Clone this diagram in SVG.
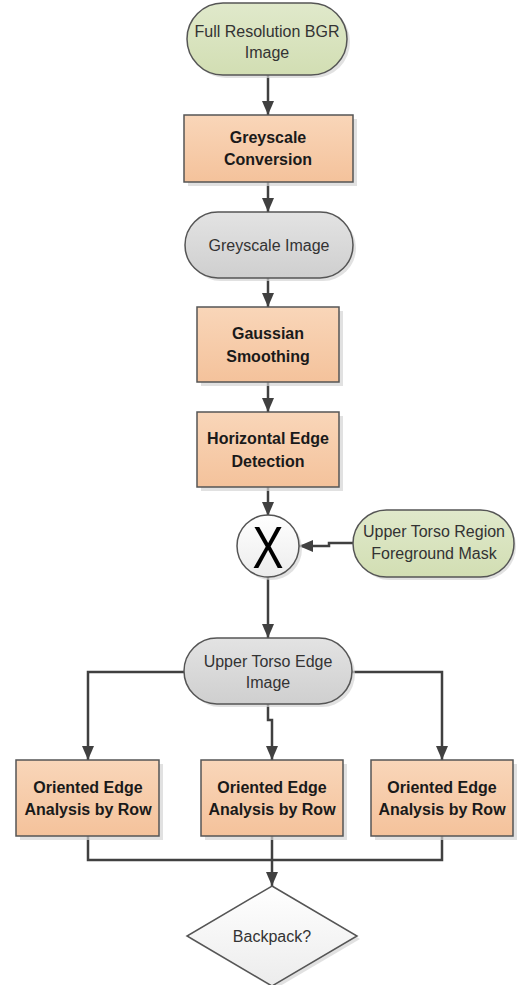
<svg xmlns="http://www.w3.org/2000/svg" width="517" height="985" viewBox="0 0 517 985">
<defs>
<linearGradient id="gOr" x1="0" y1="0" x2="0" y2="1"><stop offset="0" stop-color="#f9d6b9"/><stop offset="1" stop-color="#f4c29b"/></linearGradient>
<linearGradient id="gGr" x1="0" y1="0" x2="0" y2="1"><stop offset="0" stop-color="#e0e9cb"/><stop offset="1" stop-color="#d2deb3"/></linearGradient>
<linearGradient id="gGy" x1="0" y1="0" x2="0" y2="1"><stop offset="0" stop-color="#e3e3e3"/><stop offset="1" stop-color="#cfcfcf"/></linearGradient>
<linearGradient id="gWh" x1="0" y1="0" x2="0" y2="1"><stop offset="0" stop-color="#ffffff"/><stop offset="1" stop-color="#ececec"/></linearGradient>
<marker id="arr" viewBox="0 0 14 12" refX="14" refY="6" markerWidth="14" markerHeight="12" markerUnits="userSpaceOnUse" orient="auto"><path d="M0,0 L14,6 L0,12 z" fill="#404040"/></marker>
</defs>
<style>
.sh{fill:#d4d4d4;opacity:0.7}
.box{stroke:#555;stroke-width:1.5}
.or{fill:url(#gOr)}
.gr{fill:url(#gGr)}
.gy{fill:url(#gGy)}
.wh{fill:url(#gWh)}
.b{font-family:"Liberation Sans",Arial,sans-serif;font-weight:bold;font-size:16px;fill:#1a1a1a;text-anchor:middle}
.r{font-family:"Liberation Sans",Arial,sans-serif;font-size:16px;fill:#333;text-anchor:middle}
.ln{fill:none;stroke:#404040;stroke-width:2.5}
</style>
<g id="connectors">
<path class="ln" d="M268,75 V115" marker-end="url(#arr)"/>
<path class="ln" d="M268,182 V212" marker-end="url(#arr)"/>
<path class="ln" d="M268,278 V307" marker-end="url(#arr)"/>
<path class="ln" d="M268,382 V412" marker-end="url(#arr)"/>
<path class="ln" d="M268,487 V516" marker-end="url(#arr)"/>
<path class="ln" d="M353,543 H329 V546 H299" marker-end="url(#arr)"/>
<path class="ln" d="M268,577 V638" marker-end="url(#arr)"/>
<path class="ln" d="M184,672 H88 V760" marker-end="url(#arr)"/>
<path class="ln" d="M352,672 H442 V760" marker-end="url(#arr)"/>
<path class="ln" d="M268,704 V720 H272 V760" marker-end="url(#arr)"/>
<path class="ln" d="M88,836 V860 H442 V836"/>
<path class="ln" d="M272,836 V886" marker-end="url(#arr)"/>
</g>
<g id="n1">
<rect class="sh" x="190" y="6" width="160" height="72" rx="36"/>
<rect class="box gr" x="187" y="3" width="160" height="72" rx="36"/>
<text class="r" x="267" y="37">Full Resolution BGR</text>
<text class="r" x="267" y="58">Image</text>
</g>
<g id="n2">
<rect class="sh" x="188" y="119" width="169" height="67"/>
<rect class="box or" x="184" y="115" width="169" height="67"/>
<text class="b" x="268" y="143">Greyscale</text>
<text class="b" x="268" y="165">Conversion</text>
</g>
<g id="n3">
<rect class="sh" x="188" y="215" width="168" height="66" rx="33"/>
<rect class="box gy" x="185" y="212" width="168" height="66" rx="33"/>
<text class="r" x="269" y="251">Greyscale Image</text>
</g>
<g id="n4">
<rect class="sh" x="201" y="311" width="142" height="75"/>
<rect class="box or" x="197" y="307" width="142" height="75"/>
<text class="b" x="268" y="339">Gaussian</text>
<text class="b" x="268" y="362">Smoothing</text>
</g>
<g id="n5">
<rect class="sh" x="201" y="416" width="142" height="75"/>
<rect class="box or" x="197" y="412" width="142" height="75"/>
<text class="b" x="268" y="444">Horizontal Edge</text>
<text class="b" x="268" y="467">Detection</text>
</g>
<g id="n6">
<circle class="sh" cx="271" cy="549" r="31"/>
<circle class="box wh" cx="268" cy="546" r="31"/>
<text x="268" y="568" font-family="'Liberation Sans',Arial,sans-serif" font-size="60" fill="#000" text-anchor="middle" textLength="31" lengthAdjust="spacingAndGlyphs">X</text>
</g>
<g id="n7">
<rect class="sh" x="356" y="513" width="160" height="67" rx="33.5"/>
<rect class="box gr" x="353" y="510" width="161" height="67" rx="33.5"/>
<text class="r" x="434" y="537">Upper Torso Region</text>
<text class="r" x="434" y="559">Foreground Mask</text>
</g>
<g id="n8">
<rect class="sh" x="187" y="641" width="168" height="66" rx="33"/>
<rect class="box gy" x="184" y="638" width="168" height="66" rx="33"/>
<text class="r" x="268" y="667">Upper Torso Edge</text>
<text class="r" x="268" y="688">Image</text>
</g>
<g id="n9">
<rect class="sh" x="20" y="764" width="143" height="76"/>
<rect class="box or" x="16" y="760" width="143" height="76"/>
<text class="b" x="88" y="793">Oriented Edge</text>
<text class="b" x="88" y="815">Analysis by Row</text>
</g>
<g id="n10">
<rect class="sh" x="205" y="764" width="142" height="76"/>
<rect class="box or" x="201" y="760" width="142" height="76"/>
<text class="b" x="272" y="793">Oriented Edge</text>
<text class="b" x="272" y="815">Analysis by Row</text>
</g>
<g id="n11">
<rect class="sh" x="375" y="764" width="142" height="76"/>
<rect class="box or" x="371" y="760" width="142" height="76"/>
<text class="b" x="442" y="793">Oriented Edge</text>
<text class="b" x="442" y="815">Analysis by Row</text>
</g>
<g id="n12">
<polygon class="sh" points="275,889 360,939 275,989 190,939"/>
<polygon class="box wh" points="272,886 357,936 272,986 187,936"/>
<text class="r" x="272" y="942">Backpack?</text>
</g>
</svg>
